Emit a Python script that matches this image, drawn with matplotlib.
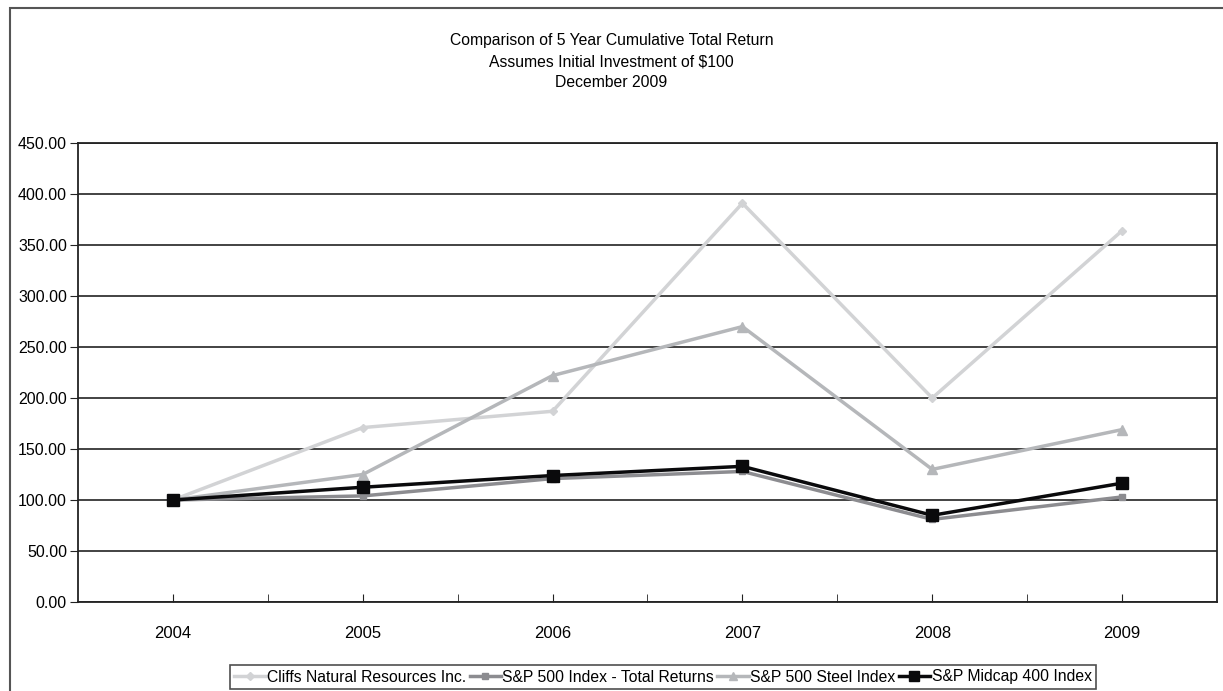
import numpy as np
import matplotlib
matplotlib.use('Agg')
import matplotlib.pyplot as plt
from matplotlib.patches import Rectangle
from matplotlib.ticker import FixedLocator, FormatStrFormatter

plt.rcParams['font.family'] = ['Liberation Sans', 'DejaVu Sans']

years = ['2004', '2005', '2006', '2007', '2008', '2009']
cliffs = [100, 171, 187, 391, 200, 364]
sp500 = [100, 104, 121, 128, 81, 103]
steel = [100, 125, 222, 270, 130, 169]
midcap = [100, 112.5, 124, 133, 85, 116.5]

title_lines = ['Comparison of 5 Year Cumulative Total Return',
               'Assumes Initial Investment of $100',
               'December 2009']

fig = plt.figure(figsize=(12.23, 6.91), dpi=100)
# outer frame (right/bottom edges fall off the page as in the scan)
fig.patches.append(Rectangle((10 / 1223, -0.05), 1.2, 1 - 8 / 691 + 0.05,
                             transform=fig.transFigure, fill=False,
                             edgecolor='#555555', linewidth=1.5))

ax = fig.add_axes([78 / 1223, 1 - 602 / 691, (1217 - 78) / 1223, (602 - 143) / 691])
x = np.arange(len(years))

ax.plot(x, cliffs, color='#d2d3d5', lw=2.5, marker='D', ms=4.5, mec='#d2d3d5',
        label='Cliffs Natural Resources Inc.', zorder=3)
ax.plot(x, sp500, color='#8c8c90', lw=2.5, marker='s', ms=5, mec='#8c8c90',
        label='S&P 500 Index - Total Returns', zorder=4)
ax.plot(x, steel, color='#b5b7ba', lw=2.5, marker='^', ms=6.5, mec='#b5b7ba',
        label='S&P 500 Steel Index', zorder=3)
ax.plot(x, midcap, color='#0a0a0c', lw=2.5, marker='s', ms=8.5, mec='#0a0a0c',
        label='S&P Midcap 400 Index', zorder=5)

ax.set_xlim(-0.5, len(years) - 0.5)
ax.set_ylim(0, 450)
ax.set_yticks(np.arange(0, 451, 50))
ax.yaxis.set_major_formatter(FormatStrFormatter('%.2f'))
ax.grid(axis='y', color='#222222', lw=1.2)
ax.set_axisbelow(True)

ax.set_xticks(x)
ax.set_xticklabels(years)
ax.xaxis.set_minor_locator(FixedLocator(x[:-1] + 0.5))
ax.tick_params(axis='x', which='both', direction='in', length=6, pad=17,
               labelsize=12, color='#222222')
ax.tick_params(axis='y', direction='out', length=6, pad=2, labelsize=11.5,
               color='#222222')
for s in ax.spines.values():
    s.set_color('#222222')
    s.set_linewidth(1.3)

for i, line in enumerate(title_lines):
    fig.text(0.5, 1 - (40.5 + 21 * i) / 691, line, ha='center', va='center',
             fontsize=11.3)

leg = fig.legend(loc='center', bbox_to_anchor=(663 / 1223, 1 - 677 / 691),
                 ncol=4, fontsize=11.3, frameon=True, fancybox=False,
                 edgecolor='#222222', handlelength=2.0, handletextpad=0.1,
                 columnspacing=0.2, borderpad=0.3, borderaxespad=0,
                 markerscale=0.9)
leg.get_frame().set_linewidth(1.2)

fig.savefig('out.png', dpi=100)
